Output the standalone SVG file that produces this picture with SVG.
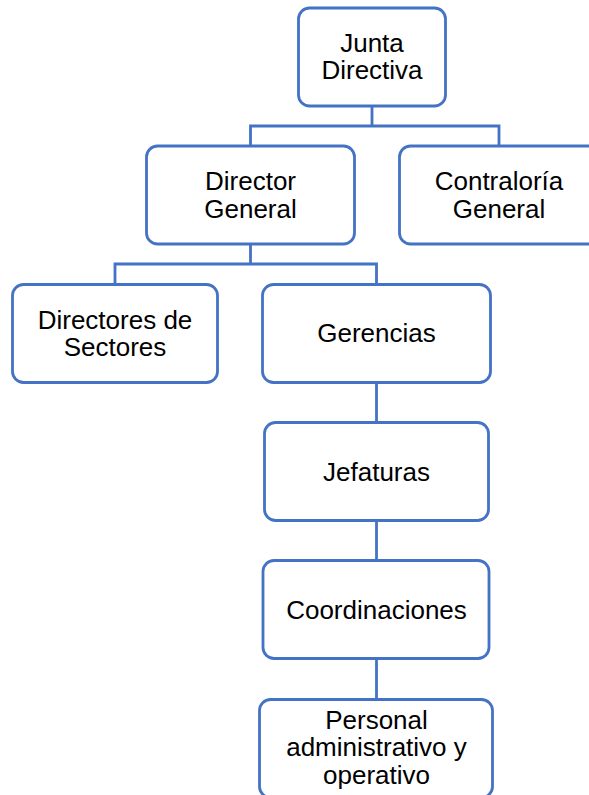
<svg xmlns="http://www.w3.org/2000/svg" width="589" height="795" viewBox="0 0 589 795">
<style>
.box{fill:#ffffff;stroke:#4472C4;stroke-width:2.8}
.lbl{font-family:"Liberation Sans",Arial,sans-serif;font-size:26px;fill:#000000;text-anchor:middle}
.con{fill:none;stroke:#4472C4;stroke-width:2.8}
</style>
<rect width="589" height="795" fill="#ffffff"/>
<g id="connectors">
<path class="con" d="M372,106 V126 M250.5,146 V126 H499 V146"/>
<path class="con" d="M250.5,244 V264 M115,284.5 V264 H376.5 V284.5"/>
<path class="con" d="M376.5,382.5 V422.5"/>
<path class="con" d="M376.5,520.5 V560.5"/>
<path class="con" d="M376.5,658.5 V699.5"/>
</g>
<g id="junta">
<rect class="box" x="298.5" y="8" width="147" height="98" rx="11"/>
<text class="lbl" x="372" y="51.5">Junta</text>
<text class="lbl" x="372" y="79">Directiva</text>
</g>
<g id="director-general">
<rect class="box" x="146.5" y="146" width="208" height="98" rx="11"/>
<text class="lbl" x="250.5" y="190">Director</text>
<text class="lbl" x="250.5" y="218">General</text>
</g>
<g id="contraloria">
<rect class="box" x="399.5" y="146" width="200" height="98" rx="11"/>
<text class="lbl" x="499" y="190">Contraloría</text>
<text class="lbl" x="499" y="218">General</text>
</g>
<g id="directores-sectores">
<rect class="box" x="12.5" y="284.5" width="205" height="98" rx="11"/>
<text class="lbl" x="115" y="328.5">Directores de</text>
<text class="lbl" x="115" y="356">Sectores</text>
</g>
<g id="gerencias">
<rect class="box" x="262.5" y="284.5" width="228" height="98" rx="11"/>
<text class="lbl" x="376.5" y="342">Gerencias</text>
</g>
<g id="jefaturas">
<rect class="box" x="264.5" y="422.5" width="224" height="98" rx="11"/>
<text class="lbl" x="376.5" y="480.5">Jefaturas</text>
</g>
<g id="coordinaciones">
<rect class="box" x="263" y="560.5" width="226" height="98" rx="11"/>
<text class="lbl" x="376.5" y="618.5">Coordinaciones</text>
</g>
<g id="personal">
<rect class="box" x="259.5" y="699.5" width="233" height="98" rx="11"/>
<text class="lbl" x="376.5" y="728.5">Personal</text>
<text class="lbl" x="376.5" y="756">administrativo y</text>
<text class="lbl" x="376.5" y="783.5">operativo</text>
</g>
</svg>
